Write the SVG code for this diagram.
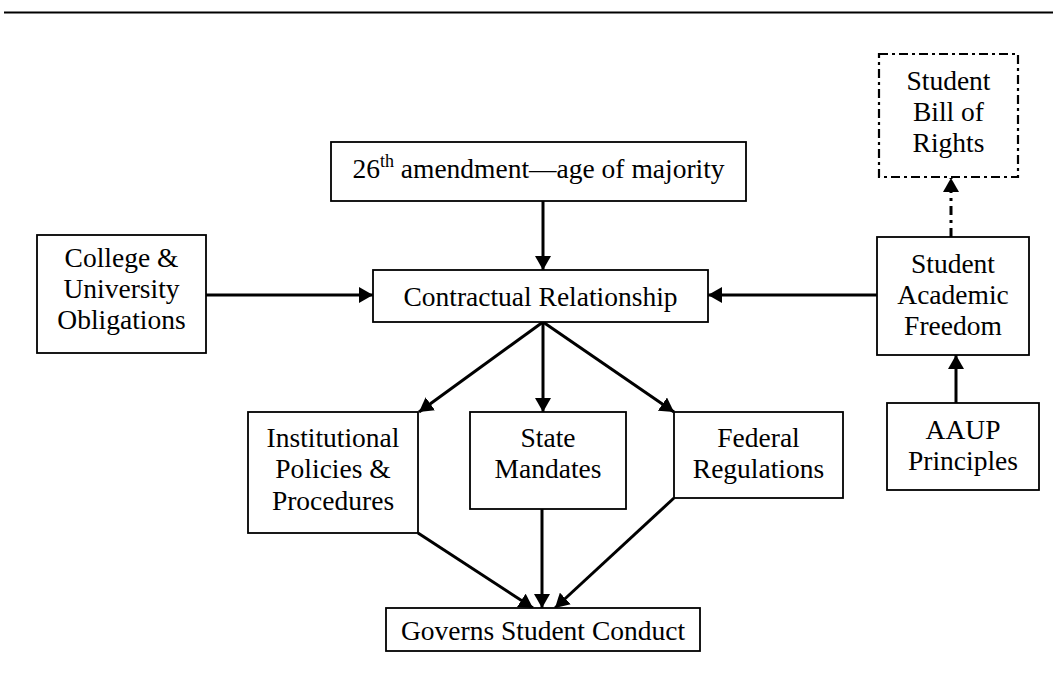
<svg xmlns="http://www.w3.org/2000/svg" width="1053" height="693" viewBox="0 0 1053 693">
<style>
  .box{fill:#fff;stroke:#000;stroke-width:1.8}
  .dash{fill:#fff;stroke:#000;stroke-width:2.2;stroke-dasharray:9 4 3 4}
  text{font-family:"Liberation Serif","Times New Roman",serif;font-size:27.5px;fill:#000;text-anchor:middle}
  .con{stroke:#000;stroke-width:3;fill:none;marker-end:url(#ah)}
  .dcon{stroke:#000;stroke-width:3;fill:none;stroke-dasharray:9 5 3 5;marker-end:url(#ah)}
</style>
<defs>
  <marker id="ah" markerUnits="userSpaceOnUse" markerWidth="14" markerHeight="16" refX="14" refY="8" orient="auto">
    <path d="M0,0 L14,8 L0,16 z" fill="#000"/>
  </marker>
</defs>
<rect x="0" y="0" width="1053" height="693" fill="#fff"/>
<line x1="4" y1="12.5" x2="1053" y2="12.5" stroke="#000" stroke-width="2"/>

<g id="connectors">
  <line class="con" x1="543" y1="201" x2="543" y2="270"/>
  <line class="con" x1="206" y1="295" x2="373" y2="295"/>
  <line class="con" x1="877" y1="295" x2="708" y2="295"/>
  <line class="dcon" x1="951" y1="237" x2="951" y2="178"/>
  <line class="con" x1="956" y1="403" x2="956" y2="355"/>
  <line class="con" x1="543" y1="322" x2="419" y2="412"/>
  <line class="con" x1="543" y1="322" x2="543" y2="412"/>
  <line class="con" x1="543" y1="322" x2="674" y2="412"/>
  <line class="con" x1="418" y1="533" x2="533" y2="608"/>
  <line class="con" x1="542" y1="509" x2="542" y2="608"/>
  <line class="con" x1="674" y1="498" x2="555" y2="608"/>
</g>

<g id="bill">
  <rect class="dash" x="879" y="54" width="139" height="123"/>
  <text x="948.5" y="90">Student</text>
  <text x="948.5" y="121">Bill of</text>
  <text x="948.5" y="152">Rights</text>
</g>
<g id="amendment">
  <rect class="box" x="331" y="142" width="415" height="59"/>
  <text x="538.5" y="178"><tspan>26</tspan><tspan font-size="18" dy="-11">th</tspan><tspan dy="11"> amendment—age of majority</tspan></text>
</g>
<g id="college">
  <rect class="box" x="37" y="235" width="169" height="118"/>
  <text x="121.5" y="267">College &amp;</text>
  <text x="121.5" y="298">University</text>
  <text x="121.5" y="329">Obligations</text>
</g>
<g id="contractual">
  <rect class="box" x="373" y="270" width="335" height="52"/>
  <text x="540.5" y="306">Contractual Relationship</text>
</g>
<g id="saf">
  <rect class="box" x="877" y="237" width="152" height="118"/>
  <text x="953" y="273">Student</text>
  <text x="953" y="304">Academic</text>
  <text x="953" y="335">Freedom</text>
</g>
<g id="aaup">
  <rect class="box" x="887" y="403" width="152" height="87"/>
  <text x="963" y="439">AAUP</text>
  <text x="963" y="470">Principles</text>
</g>
<g id="institutional">
  <rect class="box" x="248" y="412" width="170" height="121"/>
  <text x="333" y="447">Institutional</text>
  <text x="333" y="478">Policies &amp;</text>
  <text x="333" y="510">Procedures</text>
</g>
<g id="state">
  <rect class="box" x="470" y="412" width="156" height="97"/>
  <text x="548" y="447">State</text>
  <text x="548" y="478">Mandates</text>
</g>
<g id="federal">
  <rect class="box" x="674" y="412" width="169" height="86"/>
  <text x="758.5" y="447">Federal</text>
  <text x="758.5" y="478">Regulations</text>
</g>
<g id="governs">
  <rect class="box" x="386" y="608" width="314" height="43"/>
  <text x="543" y="640">Governs Student Conduct</text>
</g>
</svg>
